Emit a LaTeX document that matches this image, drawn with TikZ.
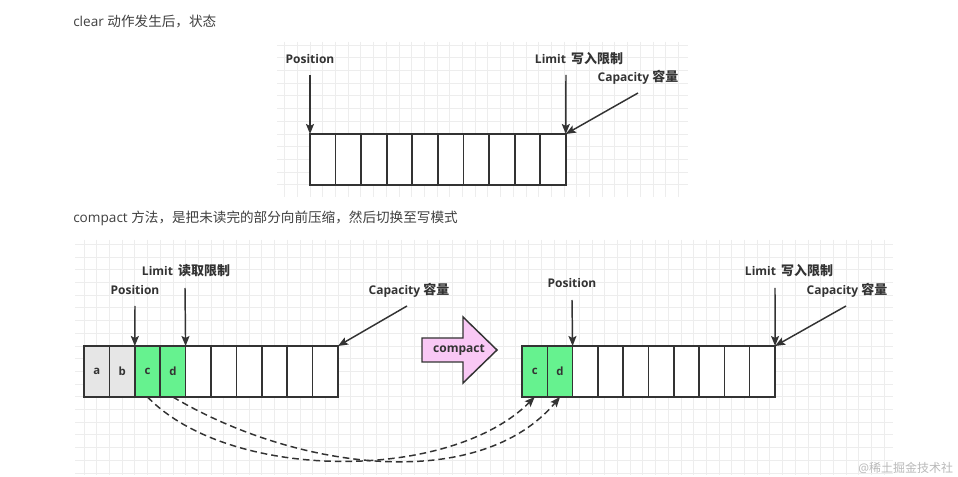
\documentclass[tikz,border=0pt]{standalone}
\usepackage{fontspec}
\setmainfont{Open Sans}
\newfontfamily\cjk{Noto Sans CJK SC}
\newfontfamily\cjklbl[Scale=1.08]{Noto Sans CJK SC}
\usepackage{tikz}
\usetikzlibrary{arrows.meta, positioning, calc}
\usepackage{xcolor}
\definecolor{inkgray}{HTML}{333333}
\definecolor{textgray}{HTML}{404040}
\definecolor{cellgray}{HTML}{E6E6E6}
\definecolor{cellgreen}{HTML}{66F28F}
\definecolor{compactpink}{HTML}{F9C8F5}
\definecolor{gridminor}{HTML}{EDEDED}

\begin{document}
\begin{tikzpicture}[
    x=0.75pt, y=-0.75pt,
    font=\fontsize{9pt}{11pt}\selectfont,
    cell/.style={draw=inkgray, line width=1.1pt, fill=white, anchor=north west,
                 minimum width=19.05pt, minimum height=38.25pt, inner sep=0pt,
                 outer sep=0pt, font=\fontsize{8.5pt}{10pt}\selectfont\bfseries,
                 text=inkgray},
    lbl/.style={font=\fontsize{9pt}{11pt}\selectfont\bfseries, text=inkgray,
                inner sep=0pt},
    heading/.style={font=\fontsize{10.2pt}{12pt}\selectfont, text=textgray,
                    anchor=west, inner sep=0pt},
    ptr/.style={draw=inkgray, line width=1.1pt,
                -{Stealth[length=7.5pt, width=6pt, inset=1.5pt]}},
    link/.style={ptr, dash pattern=on 5pt off 3pt},
    gridline/.style={draw=gridminor, line width=0.6pt},
  ]
  \useasboundingbox[fill=white] (0,0) rectangle (958,477);

  % background grids
  \begin{scope}
    \clip (277,42) rectangle (688,197);
    \foreach \k in {0,...,32}
      \draw[gridline] ({284.6+\k*12.7},42) -- ({284.6+\k*12.7},197);
    \foreach \k in {0,...,12}
      \draw[gridline] (277,{45.1+\k*12.7}) -- (688,{45.1+\k*12.7});
  \end{scope}
  \begin{scope}
    \clip (75,240) rectangle (893,475);
    \foreach \k in {-1,...,64}
      \draw[gridline] ({84+\k*12.7},240) -- ({84+\k*12.7},475);
    \foreach \k in {0,...,18}
      \draw[gridline] (75,{244.4+\k*12.7}) -- (893,{244.4+\k*12.7});
  \end{scope}

  % headings
  \node[heading] (h1) at (73,21) {clear {\cjk 动作发生后，状态}};
  \node[heading] (h2) at (73,218) {compact {\cjk 方法，是把未读完的部分向前压缩，然后切换至写模式}};

  % after clear
  \foreach \i in {0,...,9}
    \node[cell] (t\i) at ({310+\i*25.6},134) {};
  \node[lbl] (tpos) at (310,59) {Position};
  \node[lbl] (tlim) at (579,59) {Limit\, {\cjklbl 写入限制}};
  \node[lbl] (tcap) at (638,77) {Capacity {\cjklbl 容量}};
  \coordinate (tposs) at (310,75);
  \coordinate (tlims) at (566,75);
  \coordinate (tcaps) at (638,93);
  \draw[ptr] (tposs) -- (t0.north west);
  \draw[ptr] (tlims) -- (t9.north east);
  \draw[ptr] (tcaps) -- (t9.north east);

  % before compact
  \foreach \i/\f/\t in {0/cellgray/a, 1/cellgray/b, 2/cellgreen/c, 3/cellgreen/d}
    \node[cell, fill=\f] (l\i) at ({84+\i*25.4},346) {\t};
  \foreach \i in {4,...,9}
    \node[cell] (l\i) at ({84+\i*25.4},346) {};
  \node[lbl] (lpos) at (135,290) {Position};
  \node[lbl] (llim) at (186,271) {Limit\, {\cjklbl 读取限制}};
  \node[lbl] (lcap) at (409,290) {Capacity {\cjklbl 容量}};
  \coordinate (lposs) at (135,306);
  \coordinate (llims) at (185,288);
  \coordinate (lcaps) at (407,306);
  \draw[ptr] (lposs) -- (l2.north west);
  \draw[ptr] (llims) -- (l4.north west);
  \draw[ptr] (lcaps) -- (l9.north east);

  % compact arrow
  \draw[draw=inkgray, line width=1.1pt, fill=compactpink, line join=miter]
    (422,338) -- (463,338) -- (463,317) -- (497,350) -- (463,383)
    -- (463,362) -- (422,362) -- cycle;
  \node[lbl] (comp) at (459,350) {compact};

  % after compact
  \foreach \i/\t in {0/c, 1/d}
    \node[cell, fill=cellgreen] (r\i) at ({522+\i*25.3},346) {\t};
  \foreach \i in {2,...,9}
    \node[cell] (r\i) at ({522+\i*25.3},346) {};
  \node[lbl] (rpos) at (572,283) {Position};
  \node[lbl] (rlim) at (789,271) {Limit\, {\cjklbl 写入限制}};
  \node[lbl] (rcap) at (847,290) {Capacity {\cjklbl 容量}};
  \coordinate (rposs) at (572,300);
  \coordinate (rlims) at (775,288);
  \coordinate (rcaps) at (846,306);
  \draw[ptr] (rposs) -- (r2.north west);
  \draw[ptr] (rlims) -- (r9.north east);
  \draw[ptr] (rcaps) -- (r9.north east);

  % moved bytes
  \draw[link] (l2.south) .. controls (230,482) and (450,482) .. (r0.south);
  \draw[link] (l3.south) .. controls (300,472) and (480,492) .. (r1.south);

  \node[anchor=west, inner sep=0pt, text=gray!55,
        font=\fontsize{9pt}{11pt}\selectfont] (wm) at (858,468)
    {@{\cjk 稀土掘金技术社}};
\end{tikzpicture}
\end{document}
